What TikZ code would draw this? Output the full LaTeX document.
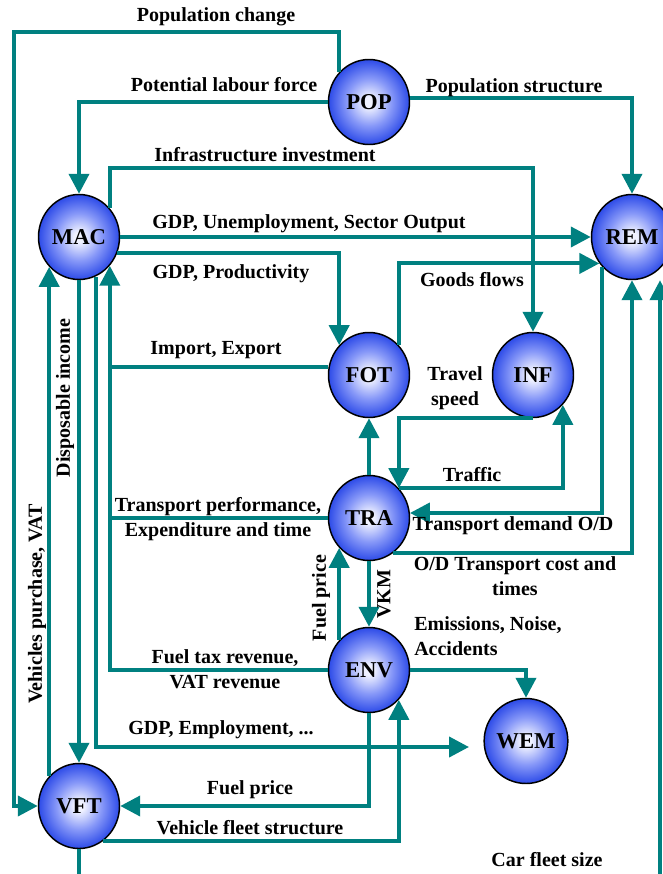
\documentclass[tikz,border=0pt]{standalone}
\usepackage{fontspec}
\setmainfont{Liberation Serif}
\usetikzlibrary{arrows.meta,shapes.geometric,calc}

\definecolor{flowteal}{RGB}{0,128,128}
\definecolor{orbin}{RGB}{240,242,255}
\definecolor{orbmid}{RGB}{135,152,248}
\definecolor{orbedge}{RGB}{45,75,232}
\pgfdeclareradialshading{orb}{\pgfpoint{0bp}{0bp}}{color(0bp)=(orbin); color(3bp)=(orbin); color(14bp)=(orbmid); color(25bp)=(orbedge); color(50bp)=(orbedge)}

\begin{document}
\begin{tikzpicture}[x=0.75pt, y=-0.75pt,
  module/.style={ellipse, draw=black, line width=1.1pt, shading=orb,
    minimum width=60.75pt, minimum height=63.75pt, inner sep=0pt,
    font=\fontsize{17}{20}\selectfont\bfseries},
  flow/.style={draw=flowteal, line width=3pt, -{Triangle[length=15pt,width=15pt]}},
  link/.style={draw=flowteal, line width=3pt},
  lbl/.style={inner sep=0pt, font=\fontsize{15}{18.75}\selectfont\bfseries, align=center},
  vlbl/.style={lbl, rotate=90}
]
\useasboundingbox (0,0) rectangle (663,874);
\clip (0,0) rectangle (663,874);

% model modules
\node[module] (POP) at (369,102) {POP};
\node[module] (MAC) at (79,237)  {MAC};
\node[module] (REM) at (632,237) {REM};
\node[module] (FOT) at (369,375) {FOT};
\node[module] (INF) at (533,375) {INF};
\node[module] (TRA) at (369,518) {TRA};
\node[module] (ENV) at (369,670) {ENV};
\node[module] (WEM) at (526,741) {WEM};
\node[module] (VFT) at (79,806)  {VFT};

% free routing points
\coordinate (pcTop) at (14,32);
\coordinate (iiTop) at (300,168);
\coordinate (cfCorner) at (660,900);
\coordinate (wemGap) at (469,747);

% population links
\draw[flow] (POP.135) |- (pcTop) |- (VFT.west);
\draw[flow] (POP.west) -| (MAC.north);
\draw[flow] (POP.5) -| (REM.north);

% macro-economic links
\draw[flow] (MAC.43) |- (iiTop) -| (INF.north);
\draw[flow] (MAC.east) -- (REM.west);
\draw[flow] (MAC.-23) -| (FOT.135);
\draw[flow] (MAC.-67) |- (wemGap);
\draw[flow] (MAC.south) -- (VFT.north);

% revenues and performance back to MAC
\draw[flow] (ENV.west) -| (MAC.-43);
\draw[link] (FOT.169) -- (FOT.169 -| MAC.-43);
\draw[link] (TRA.west) -- (TRA.west -| MAC.-43);

% freight, infrastructure and transport
\draw[flow] (FOT.45) |- (REM.219);
\draw[flow] (INF.south) -| (TRA.45);
\draw[flow] (TRA.45) -| (INF.-45);
\draw[flow] (TRA.north) -- (FOT.south);
\draw[flow] (REM.225) |- (TRA.7);
\draw[flow] (TRA.-55) -| (REM.south);

% environment and fleet
\draw[flow] (TRA.south) -- (ENV.north);
\draw[flow] (ENV.135) -- (TRA.-135);
\draw[flow] (ENV.east) -| (WEM.north);
\draw[flow] (ENV.south) |- (VFT.east);
\draw[flow] (VFT.-55) -| (ENV.-45);
\draw[flow] (VFT.135) -- (MAC.-135);
\draw[flow] (VFT.south) |- (cfCorner) -- (cfCorner |- REM.south);

% labels
\node[lbl] at (216,17)  {Population change};
\node[lbl] at (224,85)  {Potential labour force};
\node[lbl] at (514,88)  {Population structure};
\node[lbl] at (265,155) {Infrastructure investment};
\node[lbl] at (309,224) {GDP, Unemployment, Sector Output};
\node[lbl] at (231,274) {GDP, Productivity};
\node[lbl] at (472,280) {Goods flows};
\node[lbl] at (216,350) {Import, Export};
\node[lbl] at (455,388) {Travel\\speed};
\node[lbl] at (472,475) {Traffic};
\node[lbl] at (218,519) {Transport performance,\\Expenditure and time};
\node[lbl] at (513,526) {Transport demand O/D};
\node[lbl] at (515,576) {O/D Transport cost and\\times};
\node[lbl, anchor=west, align=left] at (414,636) {Emissions, Noise,\\Accidents};
\node[lbl] at (225,669) {Fuel tax revenue,\\VAT revenue};
\node[lbl] at (221,730) {GDP, Employment, ...};
\node[lbl] at (250,790) {Fuel price};
\node[lbl] at (250,828) {Vehicle fleet structure};
\node[lbl] at (547,860) {Car fleet size};
\node[vlbl] at (321,598) {Fuel price};
\node[vlbl] at (384,594) {VKM};
\node[vlbl] at (65,398)  {Disposable income};
\node[vlbl] at (37,604)  {Vehicles purchase, VAT};
\end{tikzpicture}
\end{document}
